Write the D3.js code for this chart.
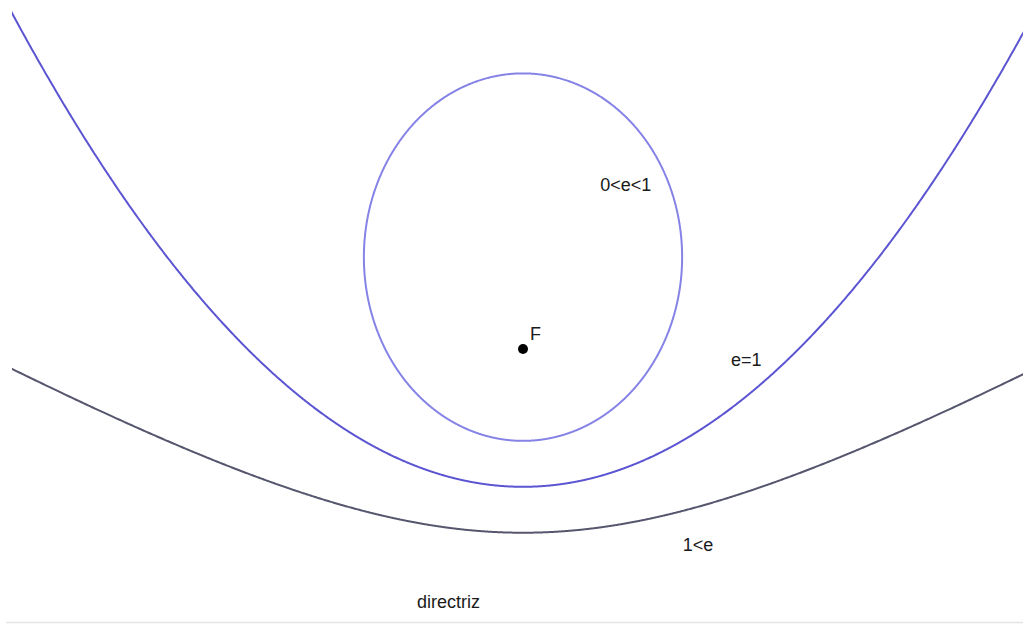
<!DOCTYPE html>
<html>
<head>
<meta charset="utf-8">
<script src="https://cdn.jsdelivr.net/npm/d3@7"></script>
<style>
  body { margin: 0; background: #fff; }
  svg text { font-family: "Liberation Sans", Arial, sans-serif; font-size: 18px; fill: #1a1a1a; }
</style>
</head>
<body>
<svg id="chart" width="1023" height="624"></svg>
<script>
// foco y directriz (unidades del dibujo)
const focus = [0, 0];
const directrixY = -4;
// excentricidades de las tres cónicas
const eccentricities = [0.5, 1, 2];
const curveColors = ['#8583e6', '#5b55d2', '#56566e'];
// etiquetas: [x, y]
const curveLabels = ['0<e<1', 'e=1', '1<e'];
const labelPos = [[1.12, 2.29], [3.02, -0.25], [2.32, -2.93]];
const directrixLabel = ['directriz', -1.54, -3.76];

const width = 1023, height = 624;
const unit = 68.9; // px por unidad

const x = d3.scaleLinear()
  .domain([-523 / unit, (width - 523) / unit])
  .range([0, width]);
const y = d3.scaleLinear()
  .domain([349 / unit, (349 - height) / unit])
  .range([0, height]);

const svg = d3.select('#chart');

svg.append('clipPath').attr('id', 'clip')
  .append('rect')
  .attr('x', 12).attr('y', 0)
  .attr('width', width - 12).attr('height', height);

// directriz
svg.append('line')
  .attr('x1', 6).attr('x2', width)
  .attr('y1', 622.5).attr('y2', 622.5)
  .attr('stroke', '#e4e4e4')
  .attr('stroke-width', 1.5);

// cónica en polares desde el foco: r = e p / (1 - e sin t)
const p = focus[1] - directrixY;
function conicPoints(e) {
  const pts = [];
  const n = 2000;
  for (let i = 0; i <= n; i++) {
    const t = -Math.PI / 2 + (i / n) * 2 * Math.PI;
    const den = 1 - e * Math.sin(t);
    if (den <= 0.001) { pts.push(null); continue; }
    const r = e * p / den;
    const px = focus[0] + r * Math.cos(t);
    const py = focus[1] + r * Math.sin(t);
    if (Math.abs(px) > 9 || py > 7) { pts.push(null); continue; }
    pts.push([px, py]);
  }
  return pts;
}

const line = d3.line()
  .defined(d => d !== null)
  .x(d => x(d[0]))
  .y(d => y(d[1]));

const curves = svg.append('g').attr('clip-path', 'url(#clip)');
eccentricities.forEach((e, i) => {
  curves.append('path')
    .datum(conicPoints(e))
    .attr('d', line)
    .attr('fill', 'none')
    .attr('stroke', curveColors[i])
    .attr('stroke-width', 2);
});

// foco
svg.append('circle')
  .attr('cx', x(focus[0])).attr('cy', y(focus[1]))
  .attr('r', 5)
  .attr('fill', '#000');
svg.append('text')
  .attr('x', x(focus[0]) + 7).attr('y', y(focus[1]) - 9)
  .text('F');

curveLabels.forEach((t, i) => {
  svg.append('text')
    .attr('x', x(labelPos[i][0])).attr('y', y(labelPos[i][1]))
    .text(t);
});

svg.append('text')
  .attr('x', x(directrixLabel[1])).attr('y', y(directrixLabel[2]))
  .text(directrixLabel[0]);
</script>
</body>
</html>
